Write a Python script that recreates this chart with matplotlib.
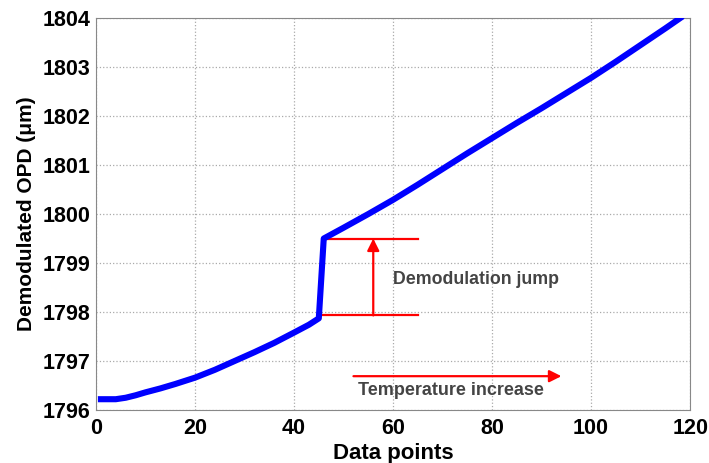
import matplotlib
matplotlib.use("Agg")
import matplotlib.pyplot as plt

# Demodulated OPD readings against sample index
x_before = [1, 4, 6, 8, 10, 13, 16, 20, 24, 28, 32, 36, 40, 43, 45]
y_before = [1796.22, 1796.22, 1796.25, 1796.30, 1796.36, 1796.44, 1796.53, 1796.66,
            1796.82, 1797.00, 1797.18, 1797.37, 1797.58, 1797.74, 1797.87]
x_after = [46, 50, 55, 60, 65, 70, 75, 80, 85, 90, 95, 100, 105, 110, 115, 118]
y_after = [1799.50, 1799.72, 1800.00, 1800.29, 1800.60, 1800.92, 1801.24, 1801.55,
           1801.86, 1802.16, 1802.47, 1802.78, 1803.11, 1803.45, 1803.79, 1804.00]

jump_low = 1797.93
jump_high = 1799.50
xticks = [0, 20, 40, 60, 80, 100, 120]
yticks = [1796, 1797, 1798, 1799, 1800, 1801, 1802, 1803, 1804]

plt.rcParams['font.family'] = ['Liberation Sans', 'DejaVu Sans']

fig = plt.figure(figsize=(7.09, 4.63), dpi=100)
ax = fig.add_axes([0.1354, 0.1145, 0.838, 0.8465])

xs = x_before + x_after
ys = y_before + y_after
ax.plot(xs, ys, color='#0000ff', linewidth=4.4, solid_joinstyle='round', zorder=3)

# jump markers
ax.plot([45, 65], [jump_low, jump_low], color='red', linewidth=1.6, zorder=2)
ax.plot([46, 65], [jump_high, jump_high], color='red', linewidth=1.6, zorder=2)
ax.annotate('', xy=(56, jump_high), xytext=(56, jump_low),
            arrowprops=dict(arrowstyle='-|>', color='red', lw=1.6,
                            mutation_scale=18, shrinkA=0, shrinkB=0))
ax.text(60, 1798.67, 'Demodulation jump', color='#444444', fontsize=12.8,
        fontweight='bold', va='center', ha='left')

# temperature direction arrow
ax.annotate('', xy=(94, 1796.69), xytext=(52, 1796.69),
            arrowprops=dict(arrowstyle='-|>', color='red', lw=1.6,
                            mutation_scale=18, shrinkA=0, shrinkB=0))
ax.text(53, 1796.39, 'Temperature increase', color='#444444', fontsize=13,
        fontweight='bold', va='center', ha='left')

ax.set_xlim(0, 120)
ax.set_ylim(1796, 1804)
ax.set_xticks(xticks)
ax.set_yticks(yticks)
ax.set_xticklabels([str(v) for v in xticks], fontsize=15.5, fontweight='bold')
ax.set_yticklabels([str(v) for v in yticks], fontsize=15.5, fontweight='bold')
ax.tick_params(direction='in', length=0, pad=4)
ax.tick_params(axis='x', pad=6)
ax.grid(True, color='#aaaaaa', linestyle=':', linewidth=0.9)
for s in ax.spines.values():
    s.set_color('#888888')
    s.set_linewidth(0.8)

ax.set_xlabel('Data points', fontsize=16, fontweight='bold', labelpad=3)
ax.set_ylabel('Demodulated OPD (\u03bcm)', fontsize=15, fontweight='bold', labelpad=5)

fig.savefig('out.png', dpi=100)
